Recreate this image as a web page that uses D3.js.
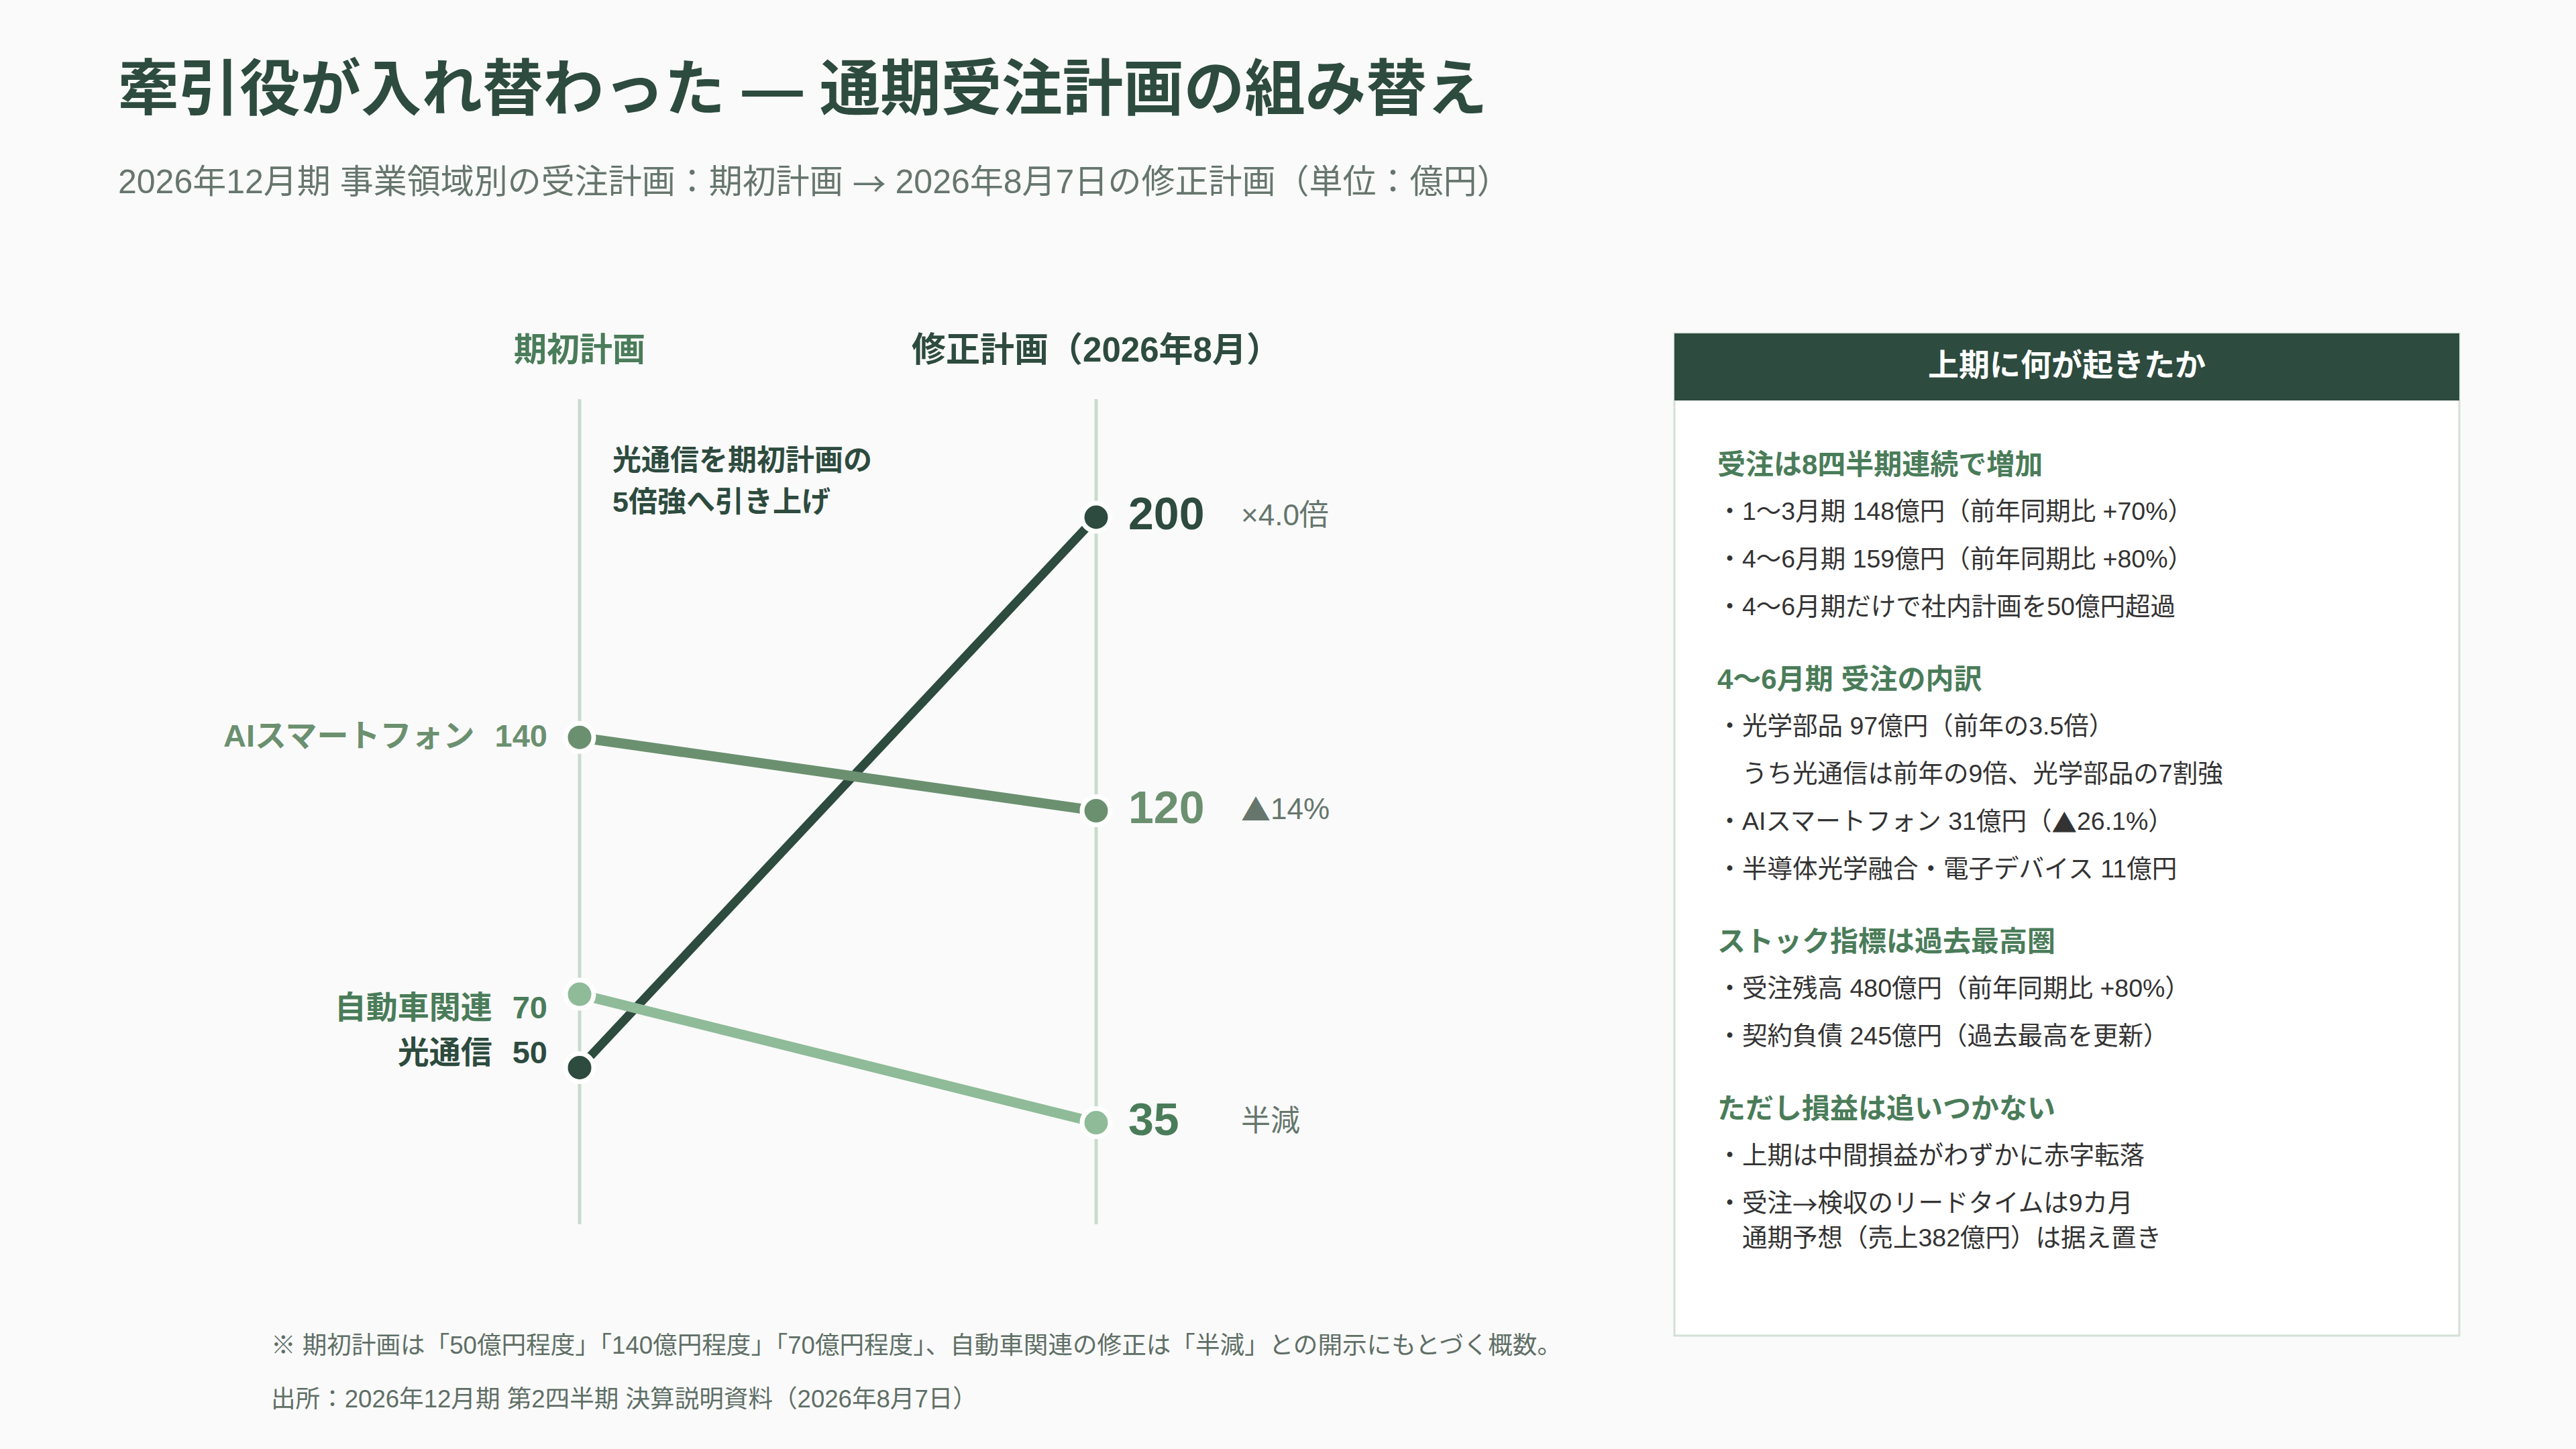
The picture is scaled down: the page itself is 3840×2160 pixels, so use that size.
<!DOCTYPE html>
<html lang="ja">
<head>
<meta charset="utf-8">
<script src="https://cdn.jsdelivr.net/npm/d3@7"></script>
<style>
  html, body { margin: 0; padding: 0; background: #fafafa; }
  svg { display: block; font-family: "Liberation Sans", "Noto Sans CJK JP", sans-serif; }
</style>
</head>
<body>
<svg id="chart" width="3840" height="2160"></svg>
<script>
  // --- data -------------------------------------------------------------
  var segments = ["光通信", "AIスマートフォン", "自動車関連"];
  var initialPlan = [50, 140, 70];
  var revisedPlan = [200, 120, 35];
  var changeNotes = ["×4.0倍", "▲14%", "半減"];
  var columnLabels = ["期初計画", "修正計画（2026年8月）"];

  var titleText = "牽引役が入れ替わった — 通期受注計画の組み替え";
  var subtitleText = "2026年12月期 事業領域別の受注計画：期初計画 → 2026年8月7日の修正計画（単位：億円）";
  var annotationLines = ["光通信を期初計画の", "5倍強へ引き上げ"];
  var footnotes = [
    "※ 期初計画は「50億円程度」「140億円程度」「70億円程度」、自動車関連の修正は「半減」との開示にもとづく概数。",
    "出所：2026年12月期 第2四半期 決算説明資料（2026年8月7日）"
  ];

  var panelTitle = "上期に何が起きたか";
  var panelHeadings = [
    "受注は8四半期連続で増加",
    "4〜6月期 受注の内訳",
    "ストック指標は過去最高圏",
    "ただし損益は追いつかない"
  ];
  // each item: lines of text; sub items carry no bullet
  var panelItems = [
    [{ lines: ["1〜3月期 148億円（前年同期比 +70%）"] },
     { lines: ["4〜6月期 159億円（前年同期比 +80%）"] },
     { lines: ["4〜6月期だけで社内計画を50億円超過"] }],
    [{ lines: ["光学部品 97億円（前年の3.5倍）"] },
     { lines: ["うち光通信は前年の9倍、光学部品の7割強"], sub: true },
     { lines: ["AIスマートフォン 31億円（▲26.1%）"] },
     { lines: ["半導体光学融合・電子デバイス 11億円"] }],
    [{ lines: ["受注残高 480億円（前年同期比 +80%）"] },
     { lines: ["契約負債 245億円（過去最高を更新）"] }],
    [{ lines: ["上期は中間損益がわずかに赤字転落"] },
     { lines: ["受注→検収のリードタイムは9カ月", "通期予想（売上382億円）は据え置き"] }]
  ];

  // --- styles -----------------------------------------------------------
  var lineColors = ["#2d4b3e", "#6b9070", "#8fbb98"];
  var textColors = ["#2d4b3e", "#6b9070", "#4a7c59"];
  var lineWidths = [13, 15, 15];
  var leftNudge = [-21, 0, 22];   // keep the two low labels apart
  var drawOrder = [0, 1, 2];
  var cjkFont = "Noto Sans CJK JP";

  // arrows and triangles look better from the CJK face
  function richText(sel, str) {
    var runs = String(str).split(/([→▲])/).filter(function(s) { return s.length; });
    runs.forEach(function(r) {
      var t = sel.append("tspan").text(r);
      if (r === "→" || r === "▲") t.attr("font-family", cjkFont);
    });
    return sel;
  }

  var svg = d3.select("#chart");

  svg.append("rect")
    .attr("width", 3840).attr("height", 2160)
    .attr("fill", "#fafafa");

  // --- titles -----------------------------------------------------------
  svg.append("text")
    .attr("x", 176).attr("y", 132)
    .attr("dominant-baseline", "central")
    .attr("font-size", 90.5).attr("font-weight", 700)
    .attr("fill", "#2d4b3e")
    .text(titleText);

  richText(svg.append("text")
    .attr("x", 176).attr("y", 271)
    .attr("dominant-baseline", "central")
    .attr("font-size", 50)
    .attr("fill", "#66766d"), subtitleText);

  // --- slope chart ------------------------------------------------------
  var x = d3.scalePoint()
      .domain(columnLabels)
      .range([864, 1634]);

  var y = d3.scaleLinear()
      .domain([0, 200])
      .range([1865, 771]);

  var axisTop = 595, axisBottom = 1825;

  var g = svg.append("g");

  g.selectAll("line.axis")
    .data(columnLabels)
    .enter().append("line")
    .attr("class", "axis")
    .attr("x1", function(d) { return x(d); })
    .attr("x2", function(d) { return x(d); })
    .attr("y1", axisTop).attr("y2", axisBottom)
    .attr("stroke", "#c9dccc")
    .attr("stroke-width", 5);

  g.selectAll("text.colhead")
    .data(columnLabels)
    .enter().append("text")
    .attr("class", "colhead")
    .attr("x", function(d) { return x(d); })
    .attr("y", 521)
    .attr("text-anchor", "middle")
    .attr("dominant-baseline", "central")
    .attr("font-size", function(d, i) { return i === 0 ? 49 : 51; })
    .attr("font-weight", 700)
    .attr("fill", function(d, i) { return i === 0 ? "#4a7c59" : "#2d4b3e"; })
    .text(function(d) { return d; });

  var rows = segments.map(function(s, i) {
    return { name: s, from: initialPlan[i], to: revisedPlan[i], note: changeNotes[i], i: i };
  });
  var ordered = drawOrder.map(function(i) { return rows[i]; });

  g.selectAll("line.slope")
    .data(ordered)
    .enter().append("line")
    .attr("class", "slope")
    .attr("x1", x(columnLabels[0]))
    .attr("x2", x(columnLabels[1]))
    .attr("y1", function(d) { return y(d.from); })
    .attr("y2", function(d) { return y(d.to); })
    .attr("stroke", function(d) { return lineColors[d.i]; })
    .attr("stroke-width", function(d) { return lineWidths[d.i]; })
    .attr("stroke-linecap", "round");

  var dotData = [];
  ordered.forEach(function(d) {
    dotData.push({ col: columnLabels[0], v: d.from, i: d.i });
    dotData.push({ col: columnLabels[1], v: d.to, i: d.i });
  });

  g.selectAll("circle.dot")
    .data(dotData)
    .enter().append("circle")
    .attr("class", "dot")
    .attr("cx", function(d) { return x(d.col); })
    .attr("cy", function(d) { return y(d.v); })
    .attr("r", 21)
    .attr("fill", function(d) { return lineColors[d.i]; })
    .attr("stroke", "#ffffff")
    .attr("stroke-width", 7);

  // left labels
  var left = g.selectAll("text.left")
    .data(rows)
    .enter().append("text")
    .attr("class", "left")
    .attr("x", x(columnLabels[0]) - 48)
    .attr("y", function(d) { return y(d.from) + leftNudge[d.i] - 3; })
    .attr("text-anchor", "end")
    .attr("dominant-baseline", "central")
    .attr("font-size", 47).attr("font-weight", 700)
    .attr("fill", function(d) { return textColors[d.i]; });
  left.append("tspan").text(function(d) { return d.name; });
  left.append("tspan").attr("dx", 30).text(function(d) { return d.from; });

  // right labels
  g.selectAll("text.rightval")
    .data(rows)
    .enter().append("text")
    .attr("class", "rightval")
    .attr("x", x(columnLabels[1]) + 48)
    .attr("y", function(d) { return y(d.to) - 6; })
    .attr("dominant-baseline", "central")
    .attr("font-size", 68).attr("font-weight", 700)
    .attr("fill", function(d) { return textColors[d.i]; })
    .text(function(d) { return d.to; });

  g.selectAll("text.note")
    .data(rows)
    .enter().append("text")
    .attr("class", "note")
    .attr("x", x(columnLabels[1]) + 216)
    .attr("y", function(d) { return y(d.to) - 4; })
    .attr("dominant-baseline", "central")
    .attr("font-size", 44)
    .attr("fill", "#66766d")
    .each(function(d) { richText(d3.select(this), d.note); });

  g.selectAll("text.annot")
    .data(annotationLines)
    .enter().append("text")
    .attr("class", "annot")
    .attr("x", 913)
    .attr("y", function(d, i) { return 686 + i * 62; })
    .attr("dominant-baseline", "central")
    .attr("font-size", 43).attr("font-weight", 700)
    .attr("fill", "#2d4b3e")
    .text(function(d) { return d; });

  // footnotes
  svg.selectAll("text.foot")
    .data(footnotes)
    .enter().append("text")
    .attr("class", "foot")
    .attr("x", 404)
    .attr("y", function(d, i) { return 2005 + i * 80; })
    .attr("dominant-baseline", "central")
    .attr("font-size", 36.6)
    .attr("fill", "#5f6f66")
    .text(function(d) { return d; });

  // --- side panel -------------------------------------------------------
  var px = 2496, py = 497, pw = 1170, ph = 1494, headH = 100;
  var panel = svg.append("g");

  panel.append("rect")
    .attr("x", px).attr("y", py).attr("width", pw).attr("height", ph)
    .attr("fill", "#ffffff")
    .attr("stroke", "#d3e0d6").attr("stroke-width", 3);

  panel.append("rect")
    .attr("x", px).attr("y", py).attr("width", pw).attr("height", headH)
    .attr("fill", "#2d4b3e");

  panel.append("text")
    .attr("x", px + pw / 2).attr("y", py + headH / 2 - 3)
    .attr("text-anchor", "middle")
    .attr("dominant-baseline", "central")
    .attr("font-size", 46).attr("font-weight", 700)
    .attr("fill", "#ffffff")
    .text(panelTitle);

  var tx = 2560, cy = 692;
  panelHeadings.forEach(function(h, si) {
    panel.append("text")
      .attr("x", tx).attr("y", cy)
      .attr("dominant-baseline", "central")
      .attr("font-size", 42).attr("font-weight", 700)
      .attr("fill", "#4a7c59")
      .text(h);
    cy += 70;
    panelItems[si].forEach(function(item, ii) {
      if (ii > 0) cy += 71;
      item.lines.forEach(function(line, li) {
        if (li > 0) cy += 52;
        if (li === 0 && !item.sub) {
          panel.append("text")
            .attr("x", tx).attr("y", cy)
            .attr("dominant-baseline", "central")
            .attr("font-size", 37)
            .attr("fill", "#333333")
            .text("・");
        }
        richText(panel.append("text")
          .attr("x", tx + 37).attr("y", cy)
          .attr("dominant-baseline", "central")
          .attr("font-size", 37.5)
          .attr("fill", "#333333"), line);
      });
    });
    cy += 108;
  });
</script>
</body>
</html>
